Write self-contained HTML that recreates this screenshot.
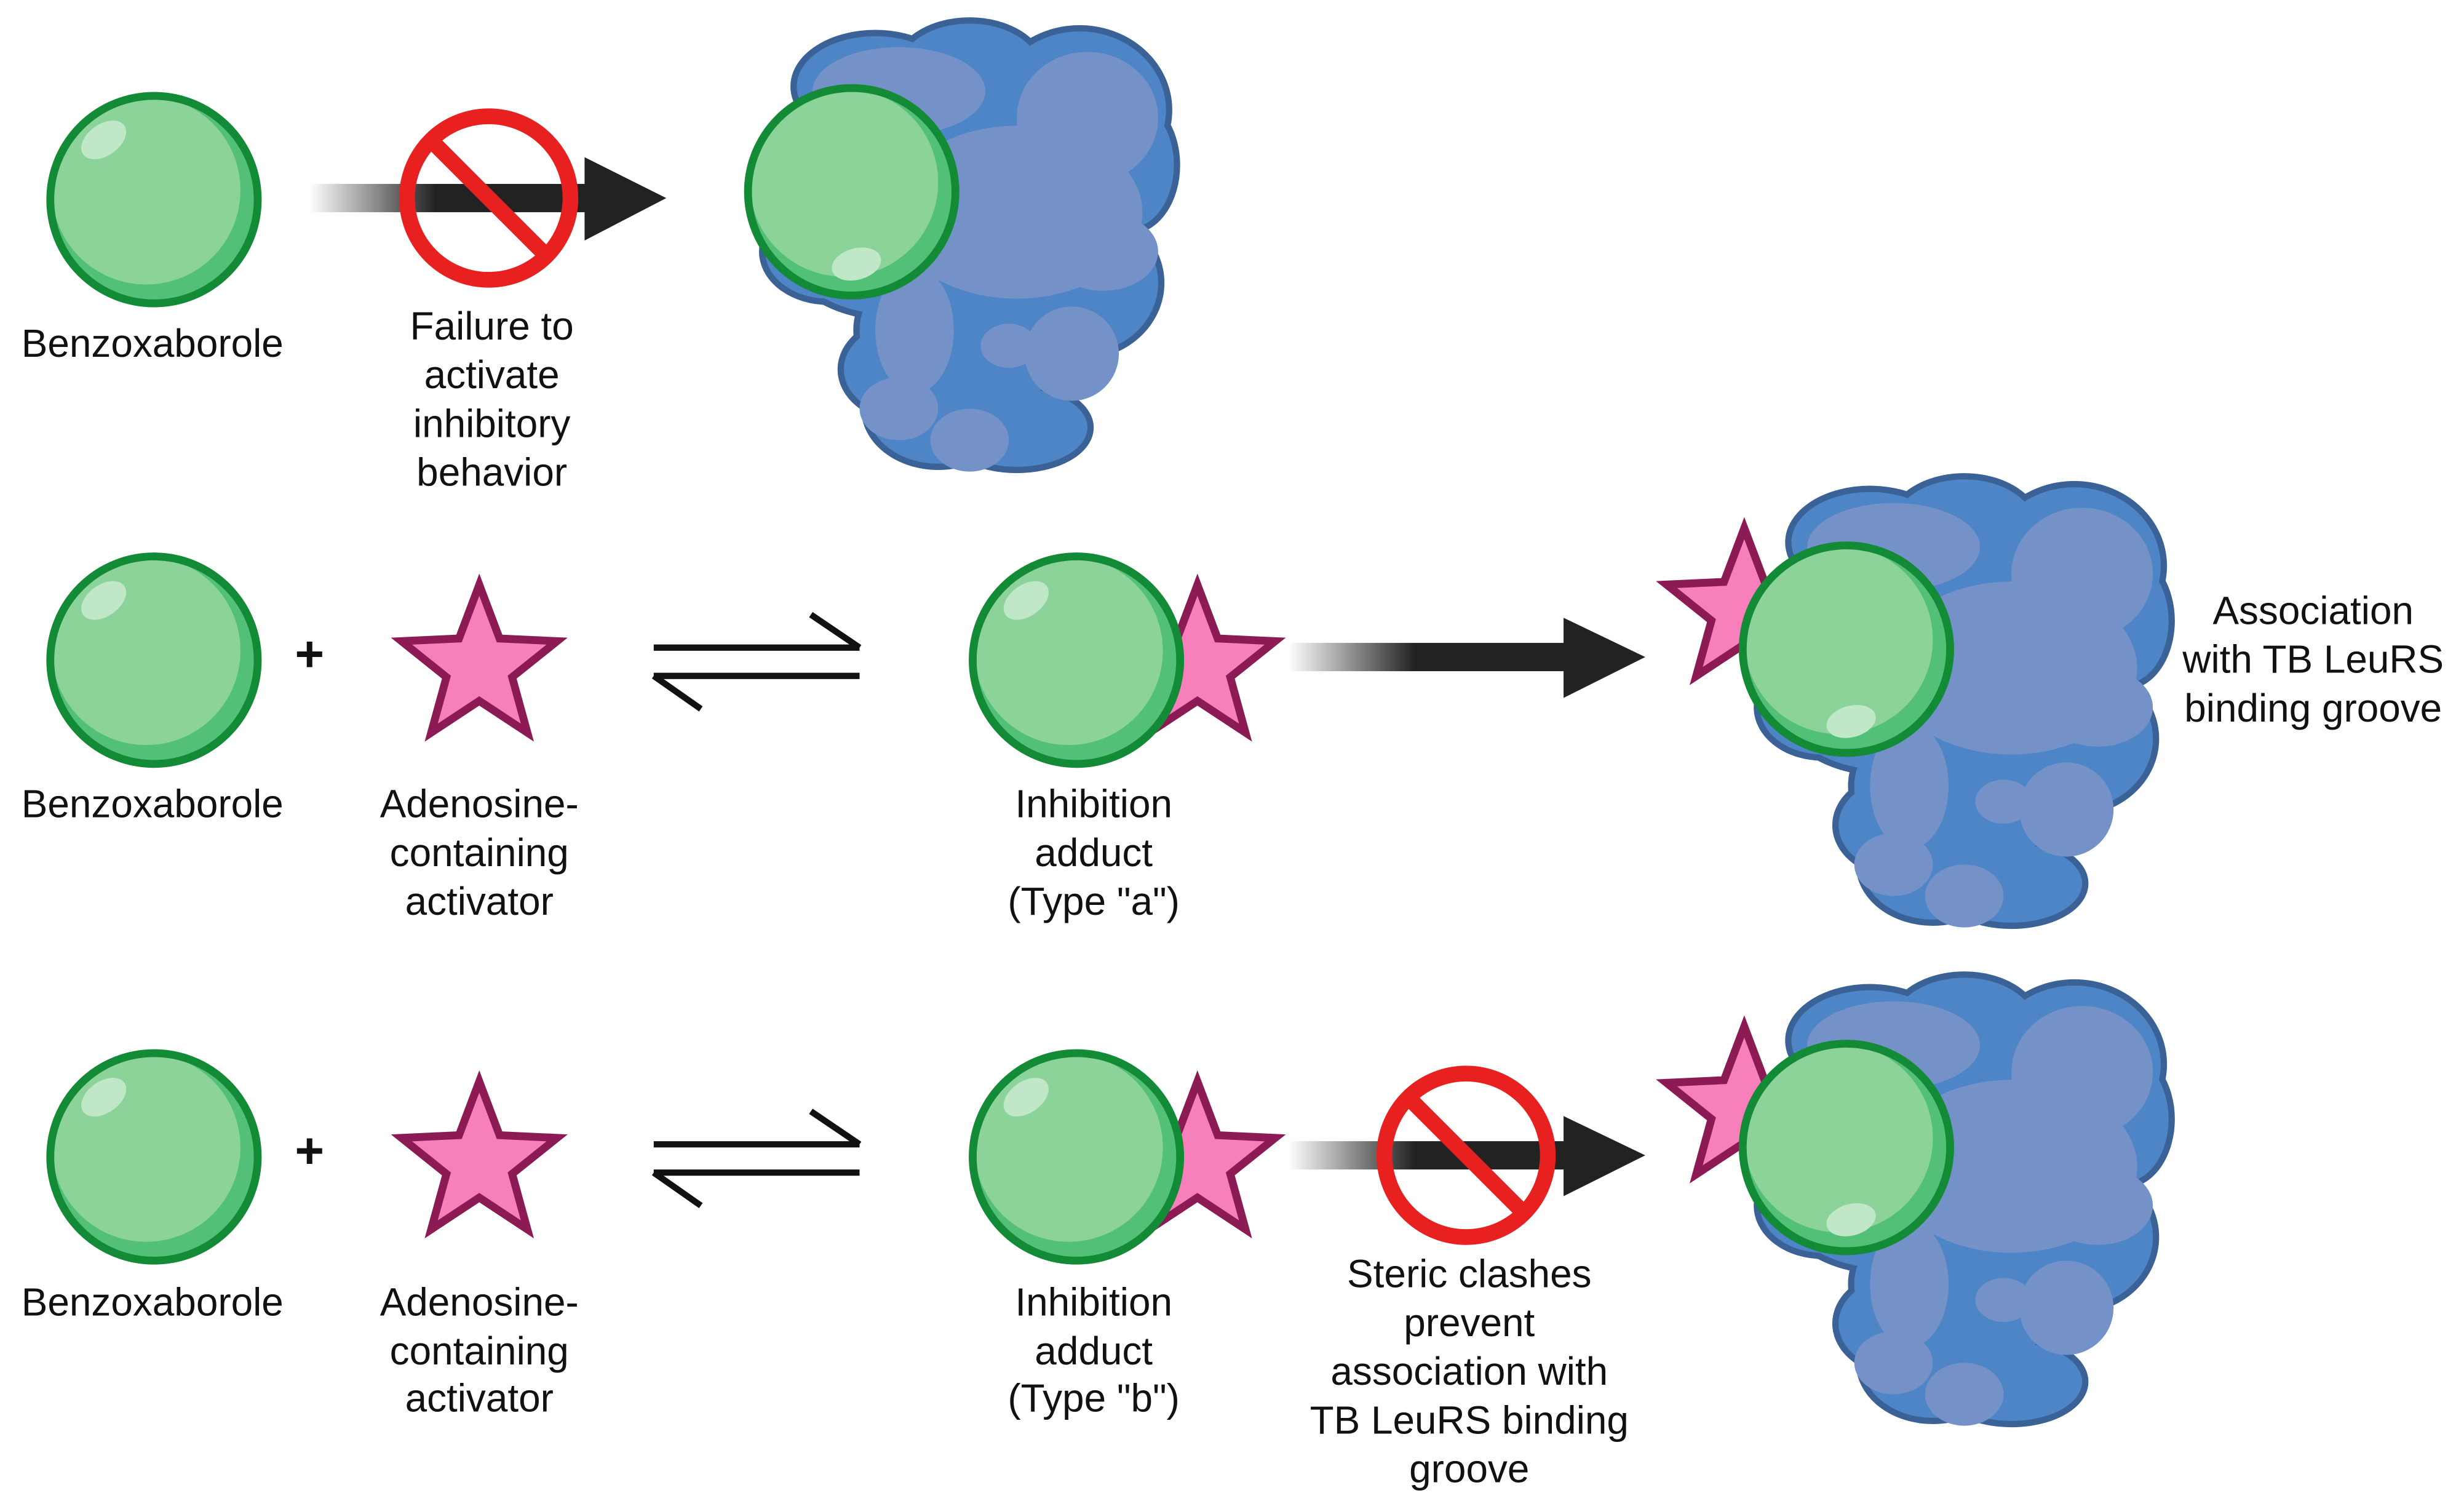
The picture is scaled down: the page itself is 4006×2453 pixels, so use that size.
<!DOCTYPE html>
<html><head><meta charset="utf-8"><style>
html,body{margin:0;padding:0;background:#fff;width:4006px;height:2453px;overflow:hidden}
svg{display:block}
text{font-family:"Liberation Sans",sans-serif;font-size:25px;fill:#111;text-anchor:middle}
</style></head><body>
<svg width="4006" height="2453" viewBox="0 0 1568 960" preserveAspectRatio="none" xmlns="http://www.w3.org/2000/svg">
<defs>
<linearGradient id="ga" x1="0" x2="1" y1="0" y2="0">
<stop offset="0" stop-color="#fff"/><stop offset="0.45" stop-color="#222"/><stop offset="1" stop-color="#222"/>
</linearGradient>
<g id="prot">
<g fill="#3a6296" stroke="#3a6296" stroke-width="8">
<ellipse cx="70" cy="45" rx="50" ry="32"/><ellipse cx="130" cy="35" rx="45" ry="30"/>
<ellipse cx="200" cy="60" rx="55" ry="50"/><ellipse cx="232" cy="95" rx="28" ry="40"/>
<ellipse cx="150" cy="120" rx="90" ry="70"/><ellipse cx="80" cy="140" rx="70" ry="50"/>
<ellipse cx="40" cy="150" rx="40" ry="30"/><ellipse cx="130" cy="200" rx="70" ry="50"/>
<ellipse cx="200" cy="170" rx="50" ry="45"/><ellipse cx="110" cy="250" rx="45" ry="35"/>
<ellipse cx="160" cy="262" rx="45" ry="25"/><ellipse cx="90" cy="225" rx="40" ry="30"/>
</g>
<g fill="#4d85c7">
<ellipse cx="70" cy="45" rx="50" ry="32"/><ellipse cx="130" cy="35" rx="45" ry="30"/>
<ellipse cx="200" cy="60" rx="55" ry="50"/><ellipse cx="232" cy="95" rx="28" ry="40"/>
<ellipse cx="150" cy="120" rx="90" ry="70"/><ellipse cx="80" cy="140" rx="70" ry="50"/>
<ellipse cx="40" cy="150" rx="40" ry="30"/><ellipse cx="130" cy="200" rx="70" ry="50"/>
<ellipse cx="200" cy="170" rx="50" ry="45"/><ellipse cx="110" cy="250" rx="45" ry="35"/>
<ellipse cx="160" cy="262" rx="45" ry="25"/><ellipse cx="90" cy="225" rx="40" ry="30"/>
</g>
<g fill="#7592c8">
<ellipse cx="85" cy="48" rx="55" ry="28"/><ellipse cx="205" cy="65" rx="45" ry="42"/>
<ellipse cx="160" cy="125" rx="80" ry="55"/><ellipse cx="160" cy="100" rx="30" ry="20"/>
<ellipse cx="215" cy="150" rx="35" ry="25"/><ellipse cx="95" cy="200" rx="25" ry="40"/>
<ellipse cx="195" cy="215" rx="30" ry="30"/><ellipse cx="155" cy="210" rx="18" ry="14"/>
<ellipse cx="85" cy="250" rx="25" ry="20"/><ellipse cx="130" cy="270" rx="25" ry="20"/>
</g>
</g>
<g id="sph">
<circle r="66" fill="#52c077"/>
<circle cx="-5" cy="-6" r="60" fill="#8cd39a"/>
<circle r="66" fill="none" stroke="#138a36" stroke-width="5"/>
</g>
<g id="hlTL"><ellipse cx="-32" cy="-38" rx="16" ry="10" transform="rotate(-35 -32 -38)" fill="#c0e8c8"/></g>
<g id="hlBR"><ellipse cx="3" cy="46" rx="16" ry="10" transform="rotate(-15 3 46)" fill="#c0e8c8"/></g>
<polygon id="star" points="0,-52 12.9,-17.8 49.5,-16.1 20.9,6.8 30.6,42.1 0,21.9 -30.6,42.1 -20.9,6.8 -49.5,-16.1 -12.9,-17.8" fill="#f77fbb" stroke="#8b1a55" stroke-width="5" stroke-linejoin="miter"/>
<g id="nosign"><circle r="52" fill="none" stroke="#e82020" stroke-width="10"/><line x1="-36" y1="-36" x2="36" y2="36" stroke="#e82020" stroke-width="10"/></g>
<g id="eq" stroke="#111" stroke-width="4" fill="none">
<line x1="416" y1="412" x2="547" y2="412"/><line x1="547" y1="412" x2="516" y2="391"/>
<line x1="416" y1="430" x2="547" y2="430"/><line x1="416" y1="430" x2="446" y2="451"/>
</g>
</defs>

<!-- Row 1 -->
<use href="#sph" x="98" y="127"/><use href="#hlTL" x="98" y="127"/>
<text x="97" y="227">Benzoxaborole</text>
<rect x="197" y="117" width="178" height="18" fill="url(#ga)"/>
<polygon points="372,100 424,126 372,153" fill="#222"/>
<use href="#nosign" x="311" y="126"/>
<text x="313" y="216">Failure to</text><text x="313" y="247">activate</text>
<text x="313" y="278">inhibitory</text><text x="313" y="309">behavior</text>
<use href="#prot" x="487" y="10"/>
<use href="#sph" x="542" y="122"/><use href="#hlBR" x="542" y="122"/>

<!-- Row 2 -->
<use href="#sph" x="98" y="420"/><use href="#hlTL" x="98" y="420"/>
<text x="197" y="427" style="font-size:32px;font-weight:bold">+</text>
<use href="#star" x="305" y="424"/>
<text x="97" y="520">Benzoxaborole</text>
<text x="305" y="520">Adenosine-</text><text x="305" y="551">containing</text><text x="305" y="582">activator</text>
<use href="#eq"/>
<use href="#star" x="762" y="424"/>
<use href="#sph" x="685" y="420"/><use href="#hlTL" x="685" y="420"/>
<text x="696" y="520">Inhibition</text><text x="696" y="551">adduct</text><text x="696" y="582">(Type "a")</text>
<rect x="820" y="409" width="178" height="18" fill="url(#ga)"/>
<polygon points="995,393 1047,418 995,444" fill="#222"/>
<use href="#prot" x="1120" y="300"/>
<use href="#star" x="1110" y="388"/>
<use href="#sph" x="1175" y="413"/><use href="#hlBR" x="1175" y="413"/>
<text x="1472" y="397">Association</text><text x="1472" y="428">with TB LeuRS</text><text x="1472" y="459">binding groove</text>

<!-- Row 3 -->
<use href="#sph" x="98" y="736"/><use href="#hlTL" x="98" y="736"/>
<text x="197" y="743" style="font-size:32px;font-weight:bold">+</text>
<use href="#star" x="305" y="740"/>
<text x="97" y="837">Benzoxaborole</text>
<text x="305" y="837">Adenosine-</text><text x="305" y="868">containing</text><text x="305" y="898">activator</text>
<use href="#eq" y="316"/>
<use href="#star" x="762" y="740"/>
<use href="#sph" x="685" y="736"/><use href="#hlTL" x="685" y="736"/>
<text x="696" y="837">Inhibition</text><text x="696" y="868">adduct</text><text x="696" y="898">(Type "b")</text>
<rect x="820" y="726" width="178" height="18" fill="url(#ga)"/>
<polygon points="995,710 1047,735 995,761" fill="#222"/>
<use href="#nosign" x="933" y="735"/>
<text x="935" y="819">Steric clashes</text><text x="935" y="850">prevent</text>
<text x="935" y="881">association with</text><text x="935" y="912">TB LeuRS binding</text><text x="935" y="943">groove</text>
<use href="#prot" x="1120" y="617"/>
<use href="#star" x="1110" y="705"/>
<use href="#sph" x="1175" y="730"/><use href="#hlBR" x="1175" y="730"/>
</svg>
</body></html>
